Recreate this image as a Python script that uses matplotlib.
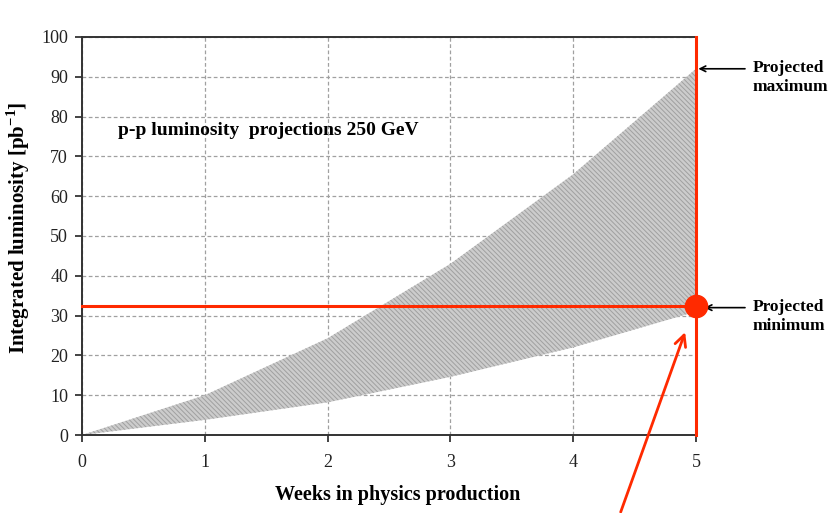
import numpy as np
import matplotlib.pyplot as plt

#weeks and the luminosity band
weeks = [0, 1, 2, 3, 4, 5]
lum_max = [0, 10, 24.3, 43, 65.5, 92]
lum_min = [0, 3.8, 8.2, 14.6, 22, 31]
xticks = [0, 1, 2, 3, 4, 5]
yticks = [0, 10, 20, 30, 40, 50, 60, 70, 80, 90, 100]
min_level = 32.5
red = '#ff2a00'

plt.rcParams['font.family'] = ['Liberation Serif', 'DejaVu Serif']
plt.rcParams['mathtext.fontset'] = 'custom'
plt.rcParams['mathtext.rm'] = 'Liberation Serif'
plt.rcParams['mathtext.bf'] = 'Liberation Serif:bold'
plt.rcParams['hatch.color'] = '#9a9a9a'
plt.rcParams['hatch.linewidth'] = 0.7

fig = plt.figure(figsize=(8.33, 5.13), dpi=100)
ax = fig.add_axes([0.0984, 0.152, 0.737, 0.776])

#hatched band between minimum and maximum
ax.fill_between(weeks, lum_min, lum_max, facecolor='#cccccc', hatch='\\\\\\\\\\\\\\', edgecolor='#a0a0a0', linewidth=0, zorder=2)

ax.set_xlim(0, 5)
ax.set_ylim(0, 100)
ax.set_xticks(xticks)
ax.set_yticks(yticks)
ax.grid(True, color='#a0a0a0', linestyle=(0, (3, 2)), linewidth=0.9, zorder=1)
ax.set_axisbelow(True)
ax.tick_params(direction='out', length=5, width=1.2, labelsize=13, colors='#222222')
ax.tick_params(axis='x', pad=9)
ax.tick_params(axis='y', pad=5)
for side in ['left', 'bottom', 'top']:
    ax.spines[side].set_linewidth(1.4)
    ax.spines[side].set_color('#333333')
ax.spines['right'].set_visible(False)

ax.set_xlabel('Weeks in physics production', fontsize=14.5, fontweight='bold')
ax.set_ylabel('Integrated luminosity [pb$^{\\mathbf{-1}}$]', fontsize=15, fontweight='bold')
ax.xaxis.set_label_coords(0.514, -0.125)
ax.yaxis.set_label_coords(-0.082, 0.52)
ax.text(0.29, 76.5, 'p-p luminosity  projections 250 GeV', fontsize=14, fontweight='bold', va='center')

#red highlight lines and point
ax.plot([0, 5], [min_level, min_level], color=red, lw=2.2, zorder=4, clip_on=False)
ax.plot([5, 5], [0, 100], color=red, lw=2.2, zorder=4, clip_on=False)
ax.plot([5], [min_level], 'o', color=red, markersize=16, zorder=5, clip_on=False)
ax.annotate('', xy=(4.92, 26.5), xytext=(4.38, -20), xycoords='data', textcoords='data',
            arrowprops=dict(arrowstyle='->', color=red, lw=2, mutation_scale=20), annotation_clip=False)

#side labels with black arrows
ax.annotate('', xy=(5.02, 92), xytext=(5.4, 92), annotation_clip=False,
            arrowprops=dict(arrowstyle='->', color='black', lw=1.2, shrinkA=0, shrinkB=0))
ax.text(5.46, 89.8, 'Projected\nmaximum', fontsize=12.5, fontweight='bold', va='center', ha='left',
        linespacing=1.3, clip_on=False)
ax.annotate('', xy=(5.07, 32), xytext=(5.4, 32), annotation_clip=False,
            arrowprops=dict(arrowstyle='->', color='black', lw=1.2, shrinkA=0, shrinkB=0))
ax.text(5.46, 29.8, 'Projected\nminimum', fontsize=12.5, fontweight='bold', va='center', ha='left',
        linespacing=1.3, clip_on=False)

fig.savefig('out.png', dpi=100)
